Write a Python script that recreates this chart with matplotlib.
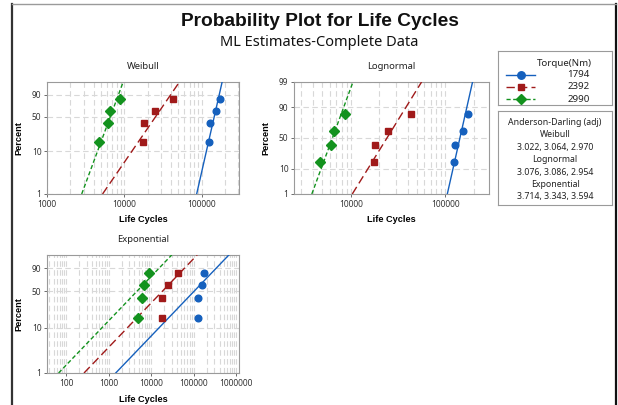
"""
Probability plot for life cycles (Weibull / Lognormal / Exponential),
three torque levels, ML fits on complete data.
"""
from statistics import NormalDist

import matplotlib
matplotlib.use("Agg")
import matplotlib.pyplot as plt
import numpy as np
from matplotlib.lines import Line2D
from matplotlib.ticker import FixedLocator, FixedFormatter, NullFormatter, LogLocator

plt.rcParams['font.family'] = ['Noto Sans', 'DejaVu Sans']
BOLD = ['Liberation Sans', 'DejaVu Sans']

# data
torques = ['1794', '2392', '2990']
cycles_1794 = [125000, 127000, 152000, 172000]
cycles_2392 = [17600, 17800, 25000, 43000]
cycles_2990 = [4750, 6100, 6550, 8700]
ad_weibull = '3.022, 3.064, 2.970'
ad_lognormal = '3.076, 3.086, 2.954'
ad_exponential = '3.714, 3.343, 3.594'

colors = ['#1560BD', '#A01A1A', '#13921E']
markers = ['o', 's', 'D']
msizes = [4.8, 4.4, 4.6]
dashes = [None, (6, 3), (3, 1.8)]
groups = [cycles_1794, cycles_2392, cycles_2990]

nd = NormalDist()


# probability scales (y in percent)
def wb_fwd(p):
    p = np.clip(np.nan_to_num(np.asarray(p, float) / 100, nan=0.5), 1e-9, 1 - 1e-9)
    return np.log(-np.log(1 - p))


def wb_inv(y):
    return 100 * (1 - np.exp(-np.exp(np.asarray(y, float))))


def ln_fwd(p):
    p = np.clip(np.nan_to_num(np.asarray(p, float) / 100, nan=0.5), 1e-9, 1 - 1e-9)
    return np.vectorize(nd.inv_cdf, otypes=[float])(p)


def ln_inv(y):
    y = np.nan_to_num(np.asarray(y, float))
    return 100 * np.vectorize(nd.cdf, otypes=[float])(y)


# ML fits
def weibull_fit(x):
    x = np.asarray(x, float)
    z = x / x.max()
    lz = np.log(z)

    def g(k):
        w = z ** k
        return (w * lz).sum() / w.sum() - 1 / k - lz.mean()
    lo, hi = 0.05, 200.0
    for _ in range(200):
        mid = 0.5 * (lo + hi)
        if g(lo) * g(mid) <= 0:
            hi = mid
        else:
            lo = mid
    k = 0.5 * (lo + hi)
    lam = np.mean(x ** k) ** (1 / k)
    return lambda q: lam * (-np.log(1 - q)) ** (1 / k)


def lognormal_fit(x):
    lx = np.log(np.asarray(x, float))
    mu, sd = lx.mean(), lx.std()
    return lambda q: np.exp(mu + sd * np.array([nd.inv_cdf(v) for v in q]))


def exponential_fit(x):
    theta = np.mean(x)
    return lambda q: -theta * np.log(1 - q)


def median_ranks(n):
    return 100 * (np.arange(1, n + 1) - 0.3) / (n + 0.4)


W, H = 618, 405
fig = plt.figure(figsize=(W / 100, H / 100), dpi=100)


def px_axes(x0, y0, x1, y1):
    return fig.add_axes([x0 / W, 1 - y1 / H, (x1 - x0) / W, (y1 - y0) / H])


panels = [
    ('Weibull', (47, 82, 239, 194), (wb_fwd, wb_inv), weibull_fit,
     (1000, 3.05e5), [1000, 10000, 100000], [1, 10, 50, 90]),
    ('Lognormal', (294, 82, 489, 194), (ln_fwd, ln_inv), lognormal_fit,
     (2500, 2.9e5), [10000, 100000], [1, 10, 50, 90, 99]),
    ('Exponential', (47, 255, 239, 373), (wb_fwd, wb_inv), exponential_fit,
     (35, 1.15e6), [100, 1000, 10000, 100000, 1000000], [1, 10, 50, 90]),
]

q = np.linspace(0.01, 0.99, 200)
for title, box, funcs, fitter, xlim, xticks, yticks in panels:
    ax = px_axes(*box)
    ax.set_xscale('log')
    ax.set_yscale('function', functions=funcs)
    for vals, c, m, ms, d in zip(groups, colors, markers, msizes, dashes):
        f = fitter(vals)
        ln, = ax.plot(f(q), 100 * q, color=c, lw=1.0, zorder=3)
        if d is not None:
            ln.set_dashes(d)
        ax.plot(sorted(vals), median_ranks(len(vals)), ls='none', marker=m,
                ms=ms, color=c, zorder=4)
    ax.set_xlim(*xlim)
    ax.set_ylim(1, 99)
    ax.xaxis.set_major_locator(FixedLocator(xticks))
    ax.xaxis.set_major_formatter(FixedFormatter([str(t) for t in xticks]))
    ax.xaxis.set_minor_locator(LogLocator(base=10, subs=np.arange(2, 10)))
    ax.xaxis.set_minor_formatter(NullFormatter())
    ax.yaxis.set_major_locator(FixedLocator(yticks))
    ax.yaxis.set_major_formatter(FixedFormatter([str(t) for t in yticks]))
    ax.yaxis.set_minor_locator(FixedLocator([]))
    ax.grid(True, which='both', axis='x', color='#d8d8d8', lw=0.8, ls=(0, (5, 3)))
    ax.grid(True, which='major', axis='y', color='#d8d8d8', lw=0.8, ls=(0, (5, 3)))
    ax.set_axisbelow(True)
    ax.tick_params(which='major', labelsize=6, colors='#555555', length=2.5,
                   width=0.6, pad=1.5, labelcolor='#333333')
    ax.tick_params(which='minor', length=0)
    for s in ax.spines.values():
        s.set_color('#9a9a9a')
        s.set_linewidth(0.8)
    ax.set_title(title, fontsize=6.8, color='#222222', pad=9)
    ax.set_xlabel('Life Cycles', fontsize=6.6, fontweight='bold', family=BOLD,
                  labelpad=5)
    ax.set_ylabel('Percent', fontsize=6.6, fontweight='bold', family=BOLD,
                  labelpad=6)

fig.text(320 / W, 1 - 21 / H, 'Probability Plot for Life Cycles', ha='center',
         va='center', fontsize=13.8, fontweight='bold', family=BOLD,
         color='#111111')
fig.text(319 / W, 1 - 43 / H, 'ML Estimates-Complete Data', ha='center',
         va='center', fontsize=10.5, color='#111111')

# legend box
lg = px_axes(498, 51, 612, 105)
lg.set_xlim(0, 114)
lg.set_ylim(54, 0)
lg.set_xticks([])
lg.set_yticks([])
for s in lg.spines.values():
    s.set_color('#9a9a9a')
    s.set_linewidth(0.8)
lg.text(66, 12, 'Torque(Nm)', ha='center', va='center', fontsize=7, color='#222222')
for i, (lab, c, m, ms, d) in enumerate(zip(torques, colors, markers, msizes, dashes)):
    yy = 23.5 + 12.3 * i
    ln = Line2D([8, 37], [yy, yy], color=c, lw=1.0, marker=None)
    if d is not None:
        ln.set_dashes(d)
    lg.add_line(ln)
    lg.plot([22.5], [yy], marker=m, ms=ms + 0.6, color=c, ls='none')
    lg.text(92, yy, lab, ha='right', va='center', fontsize=7, color='#222222')

ad = px_axes(498, 111, 612, 205)
ad.set_xlim(0, 114)
ad.set_ylim(94, 0)
ad.set_xticks([])
ad.set_yticks([])
for s in ad.spines.values():
    s.set_color('#9a9a9a')
    s.set_linewidth(0.8)
ad_lines = ['Anderson-Darling (adj)', 'Weibull', ad_weibull, 'Lognormal',
            ad_lognormal, 'Exponential', ad_exponential]
for i, t in enumerate(ad_lines):
    ad.text(57, 11.5 + 12.4 * i, t, ha='center', va='center', fontsize=6.3,
            color='#222222')

# window frame of the screenshot
fig.add_artist(Line2D([12 / W, 12 / W], [0, 1 - 4 / H], color='#333333', lw=1.6))
fig.add_artist(Line2D([616 / W, 616 / W], [0, 1 - 4 / H], color='#111111', lw=1.6))
fig.add_artist(Line2D([12 / W, 616 / W], [1 - 4 / H, 1 - 4 / H], color='#9a9a9a', lw=1.0))

fig.savefig('out.png', dpi=100)
